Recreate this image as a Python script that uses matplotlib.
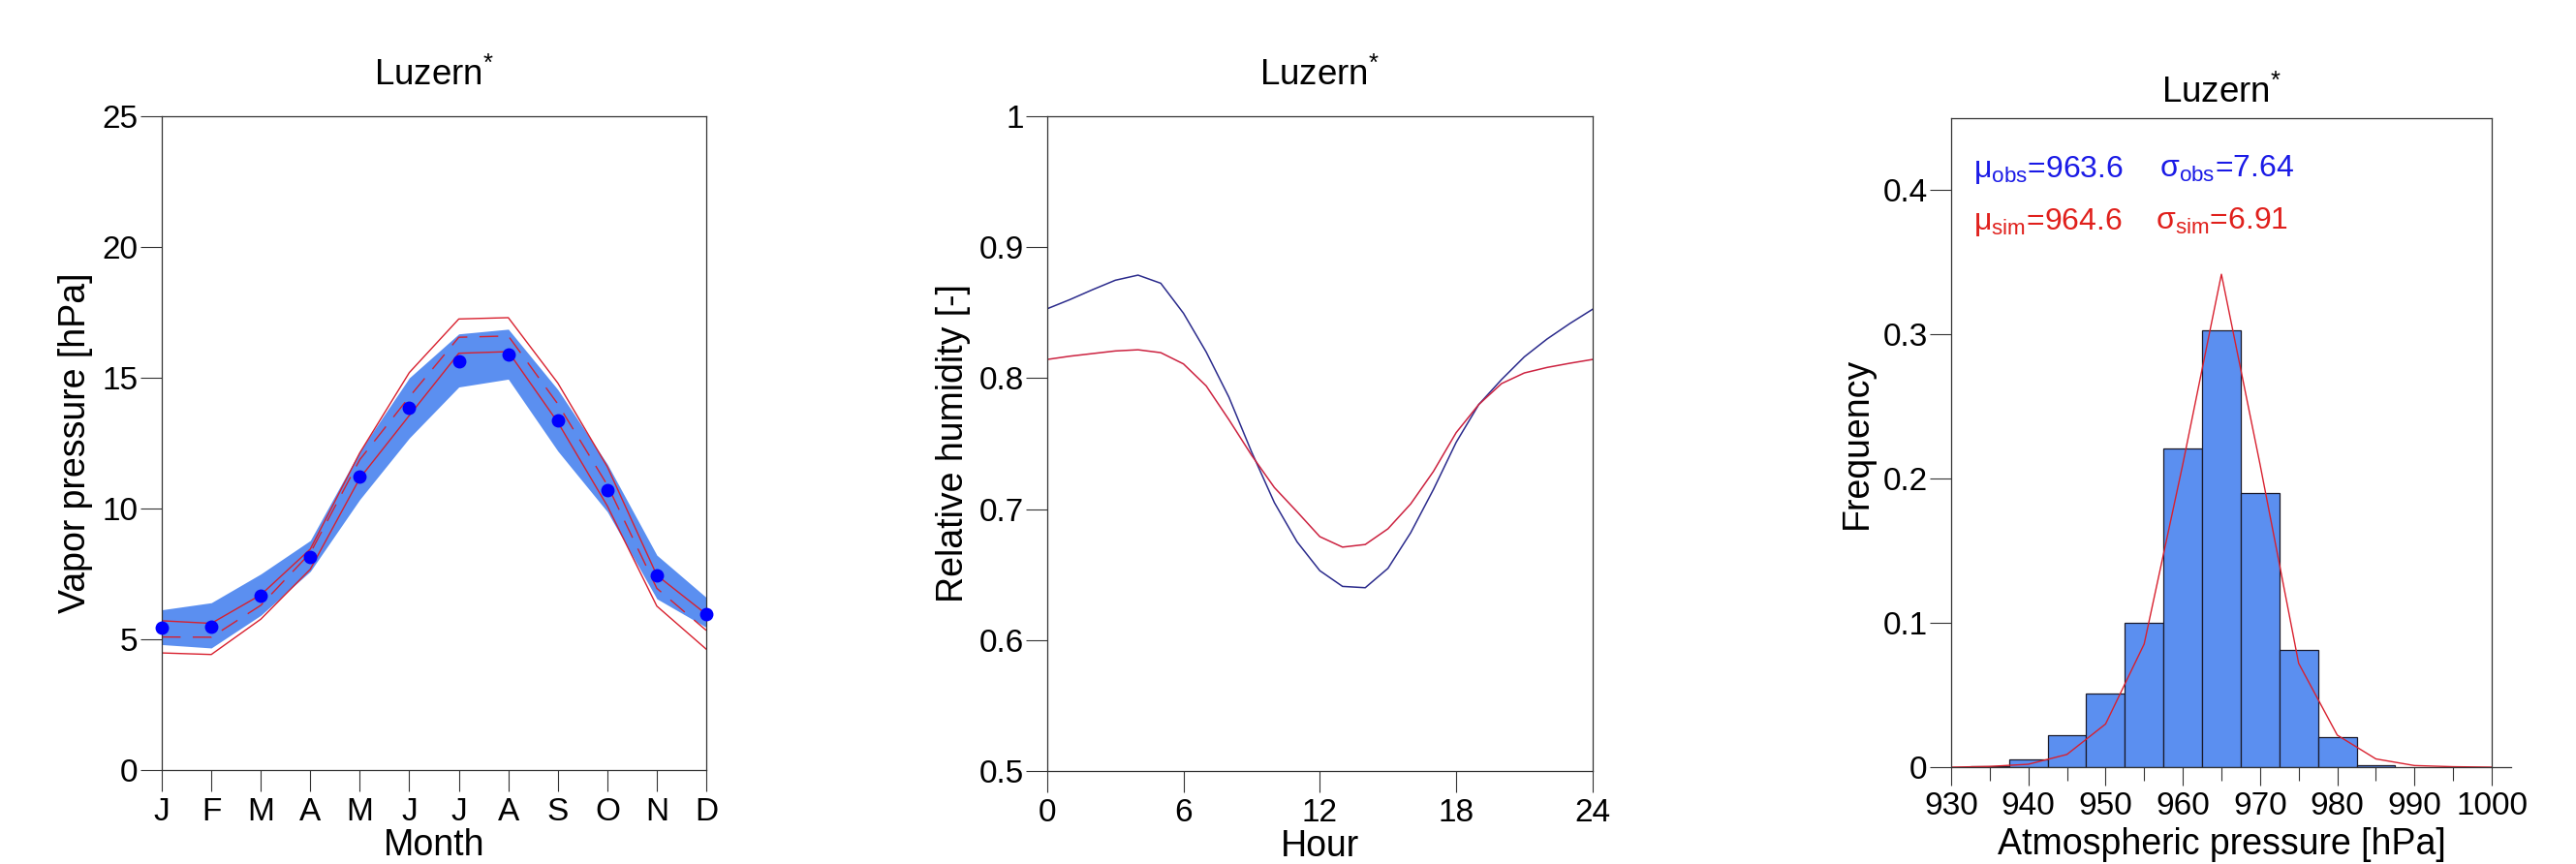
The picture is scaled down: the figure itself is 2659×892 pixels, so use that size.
import matplotlib
matplotlib.use('Agg')
import matplotlib.pyplot as plt
import numpy as np

plt.rcParams['font.family'] = ['Liberation Sans', 'DejaVu Sans']
plt.rcParams['mathtext.fontset'] = 'custom'
plt.rcParams['mathtext.rm'] = 'Liberation Sans'
plt.rcParams['mathtext.it'] = 'Liberation Sans'
plt.rcParams['mathtext.bf'] = 'Liberation Sans:bold'

# monthly vapor pressure (hPa)
month_labels = ['J', 'F', 'M', 'A', 'M', 'J', 'J', 'A', 'S', 'O', 'N', 'D']
months = np.arange(1, 13)
obs_mean = [5.45, 5.5, 6.67, 8.15, 11.22, 13.85, 15.65, 15.9, 13.36, 10.72, 7.44, 5.97]
obs_hi = [6.13, 6.4, 7.5, 8.78, 12.2, 15.0, 16.68, 16.86, 14.55, 11.7, 8.22, 6.6]
obs_lo = [4.8, 4.67, 5.92, 7.6, 10.35, 12.7, 14.65, 14.95, 12.2, 9.88, 6.55, 5.46]
sim_max = [5.71, 5.61, 6.7, 8.45, 12.13, 15.2, 17.25, 17.3, 14.8, 11.6, 7.45, 5.96]
sim_mean = [5.09, 5.08, 6.3, 8.3, 11.87, 14.27, 16.55, 16.6, 14.0, 10.9, 6.95, 5.34]
sim_min = [4.48, 4.42, 5.77, 7.68, 11.16, 13.56, 15.94, 16.0, 13.3, 10.1, 6.27, 4.62]

# daily cycle of relative humidity
hours = np.arange(0, 25)
rh_obs = [0.853, 0.860, 0.8676, 0.8748, 0.8787, 0.8725, 0.8496, 0.820, 0.7855, 0.7436,
          0.705, 0.675, 0.653, 0.641, 0.640, 0.6548, 0.682, 0.715, 0.751, 0.780,
          0.799, 0.8163, 0.8299, 0.8417, 0.8526]
rh_sim = [0.8143, 0.8168, 0.8188, 0.8208, 0.8217, 0.8195, 0.8109, 0.7941, 0.7683, 0.7411,
          0.7165, 0.698, 0.679, 0.671, 0.673, 0.685, 0.704, 0.7288, 0.7584, 0.780,
          0.7959, 0.804, 0.8082, 0.8114, 0.8143]

# atmospheric pressure distribution
bin_centers = [935, 940, 945, 950, 955, 960, 965, 970, 975, 980, 985]
obs_freq = [0.001, 0.0057, 0.0222, 0.0513, 0.1003, 0.2209, 0.3032, 0.1899, 0.0811, 0.0207, 0.0011]
sim_p = [930, 935, 940, 945, 950, 955, 960, 965, 970, 975, 980, 985, 990, 995, 1000]
sim_freq = [0.0, 0.0005, 0.002, 0.0088, 0.0299, 0.0854, 0.21, 0.3418, 0.21, 0.072,
            0.0222, 0.0057, 0.0011, 0.0003, 0.0]

band_col = '#5b8ff0'
red = '#d8202e'
tick_fs = 24
label_fs = 27
title_fs = 26.5
stat_fs = 23


def style(ax):
    for s in ax.spines.values():
        s.set_color('#333333')
        s.set_linewidth(0.9)
    ax.tick_params(direction='out', length=16, width=0.8, colors='#333333',
                   labelcolor='black', labelsize=tick_fs)
    ax.tick_params(axis='y', pad=1.5)
    ax.tick_params(axis='x', pad=4)


fig = plt.figure(figsize=(26.59, 8.92), dpi=100)

# left panel
ax1 = fig.add_axes([0.0628, 0.1087, 0.2114, 0.7567])
ax1.fill_between(months, obs_lo, obs_hi, color=band_col, lw=0)
ax1.plot(months, sim_max, color=red, lw=1.0)
ax1.plot(months, sim_min, color=red, lw=1.0)
ax1.plot(months, sim_mean, color=red, lw=1.0, dashes=(14, 9))
ax1.plot(months, obs_mean, 'o', color='#0000ff', ms=9, clip_on=False, zorder=5)
ax1.set_xlim(1, 12)
ax1.set_ylim(0, 25)
ax1.set_xticks(months)
ax1.set_xticklabels(month_labels)
ax1.set_yticks([0, 5, 10, 15, 20, 25])
style(ax1)
ax1.set_title('Luzern$^{*}$', fontsize=title_fs, pad=23)
ax1.set_xlabel('Month', fontsize=label_fs)
ax1.set_ylabel('Vapor pressure [hPa]', fontsize=label_fs)
ax1.xaxis.set_label_coords(0.5, -0.1305)
ax1.xaxis.label.set_va('baseline')
ax1.yaxis.set_label_coords(-0.158, 0.5)
ax1.yaxis.label.set_va('center')

# middle panel
ax2 = fig.add_axes([0.4065, 0.1076, 0.2117, 0.7578])
ax2.plot(hours, rh_obs, color='#2b2b8c', lw=1.1)
ax2.plot(hours, rh_sim, color='#cc2240', lw=1.1)
ax2.set_xlim(0, 24)
ax2.set_ylim(0.5, 1.0)
ax2.set_xticks([0, 6, 12, 18, 24])
ax2.set_yticks([0.5, 0.6, 0.7, 0.8, 0.9, 1.0])
ax2.set_yticklabels(['0.5', '0.6', '0.7', '0.8', '0.9', '1'])
style(ax2)
ax2.set_title('Luzern$^{*}$', fontsize=title_fs, pad=23)
ax2.set_xlabel('Hour', fontsize=label_fs)
ax2.set_ylabel('Relative humidity [-]', fontsize=label_fs)
ax2.xaxis.set_label_coords(0.5, -0.1305)
ax2.xaxis.label.set_va('baseline')
ax2.yaxis.set_label_coords(-0.172, 0.5)
ax2.yaxis.label.set_va('center')

# right panel
ax3 = fig.add_axes([0.7574, 0.1121, 0.2099, 0.7511])
ax3.bar(bin_centers, obs_freq, width=5, color=band_col, edgecolor='#1a1a2a', lw=0.9)
ax3.plot(sim_p, sim_freq, color=red, lw=1.0)
ax3.set_xlim(930, 1000)
ax3.set_ylim(0, 0.45)
ax3.set_xticks(np.arange(930, 1001, 10))
ax3.set_xticks(np.arange(935, 1000, 10), minor=True)
ax3.set_yticks([0, 0.1, 0.2, 0.3, 0.4])
ax3.set_yticklabels(['0', '0.1', '0.2', '0.3', '0.4'])
style(ax3)
ax3.tick_params(axis='x', which='major', length=14)
ax3.tick_params(axis='x', which='minor', length=10, width=0.8, colors='#333333')
ax3.spines['bottom'].set_bounds(930, 1002.5)
ax3.set_title('Luzern$^{*}$', fontsize=title_fs, pad=11.5)
ax3.set_xlabel('Atmospheric pressure [hPa]', fontsize=label_fs)
ax3.set_ylabel('Frequency', fontsize=label_fs)
ax3.xaxis.set_label_coords(0.5, -0.1345)
ax3.xaxis.label.set_va('baseline')
ax3.yaxis.set_label_coords(-0.174, 0.5)
ax3.yaxis.label.set_va('center')

ax3.text(0.041, 0.9085, 'μ$_{obs}$=963.6', color='#1a1ae6', fontsize=stat_fs,
         transform=ax3.transAxes, va='baseline')
ax3.text(0.385, 0.9085, 'σ$_{obs}$=7.64', color='#1a1ae6', fontsize=stat_fs,
         transform=ax3.transAxes, va='baseline')
ax3.text(0.041, 0.8288, 'μ$_{sim}$=964.6', color='#e0201c', fontsize=stat_fs,
         transform=ax3.transAxes, va='baseline')
ax3.text(0.378, 0.8288, 'σ$_{sim}$=6.91', color='#e0201c', fontsize=stat_fs,
         transform=ax3.transAxes, va='baseline')

fig.savefig('out.png', dpi=100)
